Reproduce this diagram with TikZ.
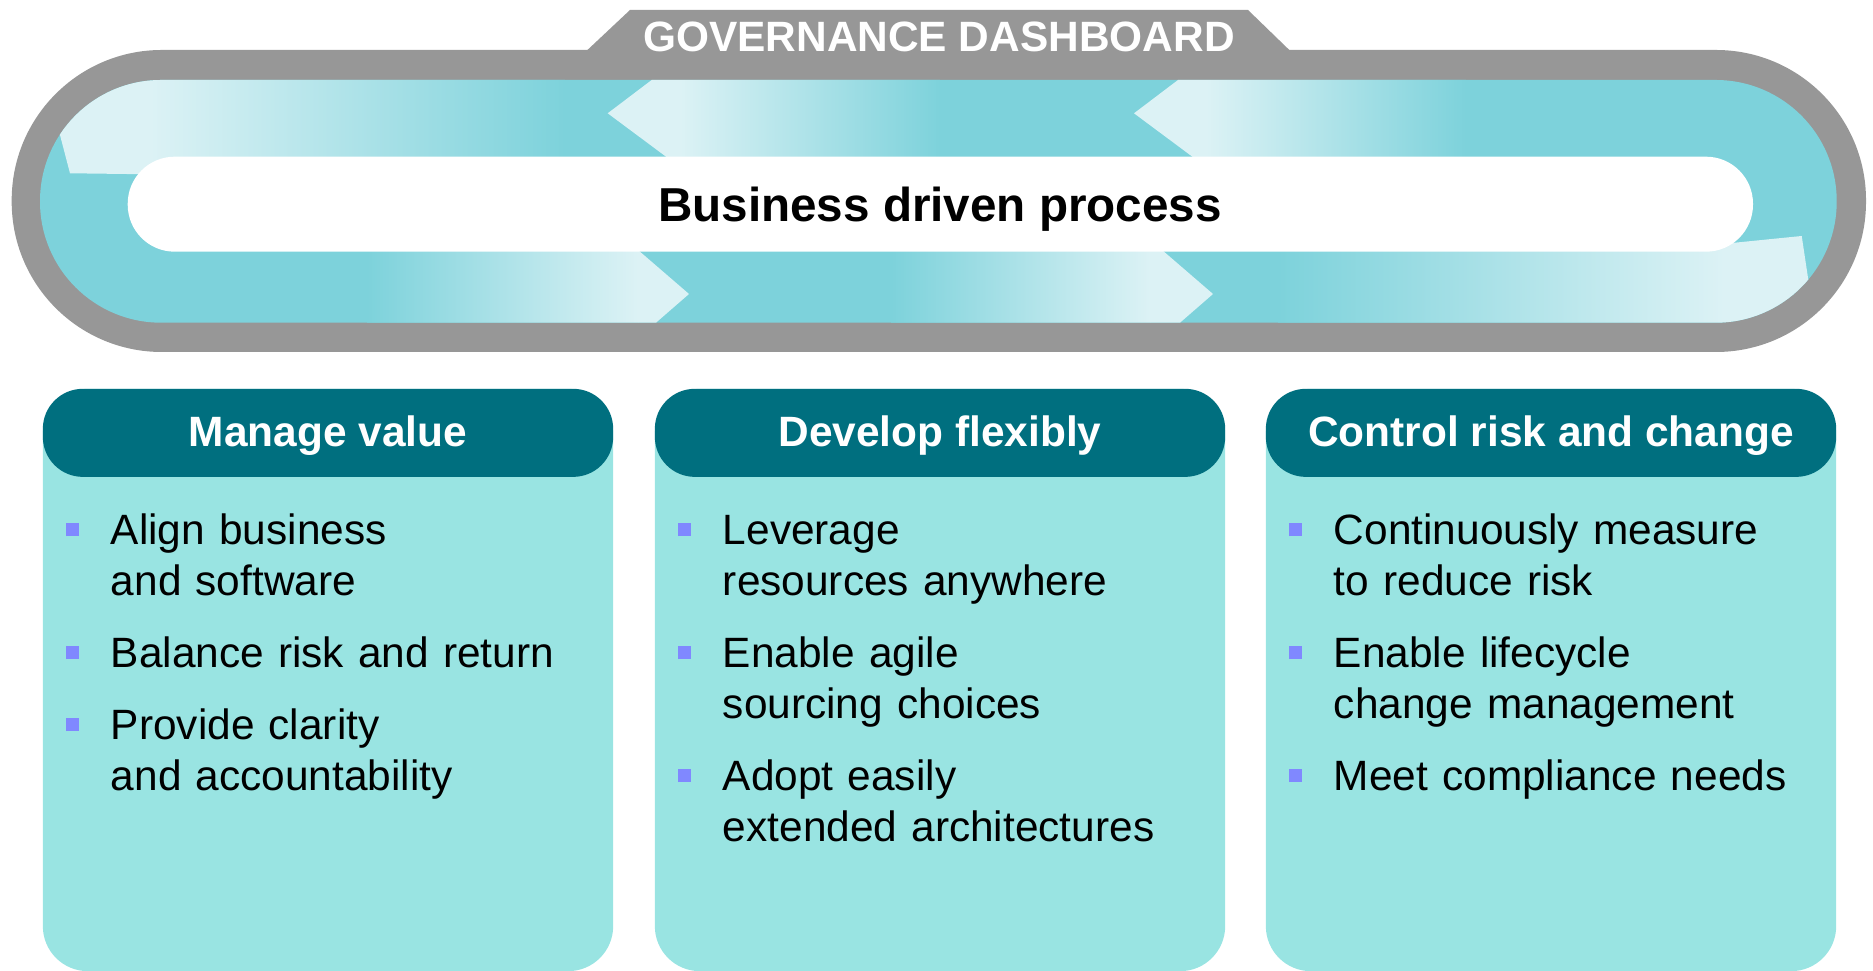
\documentclass[tikz,border=0pt]{standalone}
\usepackage{fontspec}
\setmainfont{Liberation Sans}
\usetikzlibrary{positioning}
\definecolor{ringgray}{HTML}{979797}
\definecolor{bandteal}{HTML}{7DD2DB}
\definecolor{bandlight}{HTML}{DCF2F5}
\definecolor{cardaqua}{HTML}{99E4E2}
\definecolor{headteal}{HTML}{006F7F}
\definecolor{bulletblue}{HTML}{8088FF}
\tikzset{%
	ring/.style={fill=ringgray},
	band/.style={fill=bandteal},
	procpill/.style={fill=white, rounded corners=0.47cm},
	fadeleft/.style={left color=bandlight, right color=bandteal},
	faderight/.style={left color=bandteal, right color=bandlight},
	tabtext/.style={text=white, inner sep=0mm, font=\bfseries\fontsize{12.06}{14.5}\selectfont},
	proctext/.style={text=black, inner sep=0mm, font=\bfseries\fontsize{13.54}{16}\selectfont},
	card/.style={fill=cardaqua, rounded corners=0.45cm, minimum width=5.7cm,%
		minimum height=5.82cm, inner sep=0mm, outer sep=0mm},
	cardhead/.style={fill=headteal, rounded corners=0.4cm, minimum width=5.7cm,%
		minimum height=0.88cm, inner sep=0mm, outer sep=0mm, text=white,%
		text height=0.34cm, text depth=0.06cm, font=\bfseries\fontsize{12.06}{14.5}\selectfont},
	bullettext/.style={text width=4.8cm, align=left, inner sep=0mm, outer sep=0mm,%
		font=\fontsize{12.06}{14.51}\selectfont,%
		execute at begin node={\noindent\strut\llap{\textcolor{bulletblue}{\rule[0.08cm]{0.13cm}{0.13cm}}\hspace{0.32cm}}},%
		execute at end node={\strut}}
}

\begin{document}
\begin{tikzpicture}[x=0.01cm, y=-0.01cm]
	\useasboundingbox (0,0) rectangle (1873,971);

	% dashboard ring and tab
	\fill[ring] (576.8,60) -- (630,10) -- (1248,10) -- (1299.6,60) -- cycle;
	\fill[ring, rounded corners=1.5cm] (11.7,50) rectangle (1866,352);
	\fill[band, rounded corners=1.21cm] (40,80) rectangle (1836.7,322.7);

	\begin{scope}
		\clip[rounded corners=1.21cm] (40,80) rectangle (1836.7,322.7);
		% upper lane, flowing left
		\begin{scope}
			\clip (70,173.3) -- (40.9,62) -- (600,62) -- (600,180) -- cycle;
			\fill[bandlight] (0,60) rectangle (150,200);
			\shade[fadeleft] (150,60) rectangle (565,200);
		\end{scope}
		\begin{scope}
			\clip (607.7,113.3) -- (664.9,70) -- (1100,70) -- (1100,170) -- (683.9,170) -- cycle;
			\fill[bandlight] (600,60) rectangle (680,200);
			\shade[fadeleft] (680,60) rectangle (940,200);
		\end{scope}
		\begin{scope}
			\clip (1134,113.3) -- (1191.2,70) -- (1650,70) -- (1650,170) -- (1210.2,170) -- cycle;
			\fill[bandlight] (1120,60) rectangle (1206,200);
			\shade[fadeleft] (1206,60) rectangle (1466,200);
		\end{scope}
		% lower lane, flowing right
		\begin{scope}
			\clip (300,240) -- (626.4,240) -- (689,294) -- (636.1,340) -- (300,340) -- cycle;
			\shade[faderight] (367,230) rectangle (638,350);
			\fill[bandlight] (638,230) rectangle (700,350);
		\end{scope}
		\begin{scope}
			\clip (824,240) -- (1150.4,240) -- (1213,294) -- (1160.1,340) -- (824,340) -- cycle;
			\shade[faderight] (891,230) rectangle (1150,350);
			\fill[bandlight] (1150,230) rectangle (1220,350);
		\end{scope}
		\begin{scope}
			\clip (1250,245) -- (1735,242.7) -- (1801.7,236) -- (1817.3,340) -- (1250,340) -- cycle;
			\shade[faderight] (1278,230) rectangle (1724,350);
			\fill[bandlight] (1724,230) rectangle (1850,350);
		\end{scope}
	\end{scope}

	\fill[procpill] (127.7,156.7) rectangle (1753,251.7);
	\node[tabtext, anchor=base] (dash) at (939,52) {GOVERNANCE DASHBOARD};
	\node[proctext, anchor=base] (proc) at (940,221.5) {Business driven process};

	% three cards
	\node[card] (card1) at (328,680) {};
	\node[card] (card2) at (940,680) {};
	\node[card] (card3) at (1551,680) {};

	\node[cardhead, below=0cm of card1.north] (head1) {Manage value};
	\node[cardhead, below=0cm of card2.north] (head2) {Develop flexibly};
	\node[cardhead, below=0cm of card3.north] (head3) {Control risk and change};

	\node[bullettext, below right=0.315cm and 0.68cm of head1.south west] (align) {Align business\\and software};
	\node[bullettext, below right=0.21cm and 0cm of align.south west] (balance) {Balance risk and return};
	\node[bullettext, below right=0.21cm and 0cm of balance.south west] (clarity) {Provide clarity\\and accountability};

	\node[bullettext, below right=0.315cm and 0.68cm of head2.south west] (leverage) {Leverage\\resources anywhere};
	\node[bullettext, below right=0.21cm and 0cm of leverage.south west] (agile) {Enable agile\\sourcing choices};
	\node[bullettext, below right=0.21cm and 0cm of agile.south west] (adopt) {Adopt easily\\extended architectures};

	\node[bullettext, below right=0.315cm and 0.68cm of head3.south west] (measure) {Continuously measure\\to reduce risk};
	\node[bullettext, below right=0.21cm and 0cm of measure.south west] (lifecycle) {Enable lifecycle\\change management};
	\node[bullettext, below right=0.21cm and 0cm of lifecycle.south west] (comply) {Meet compliance needs};

\end{tikzpicture}
\end{document}
